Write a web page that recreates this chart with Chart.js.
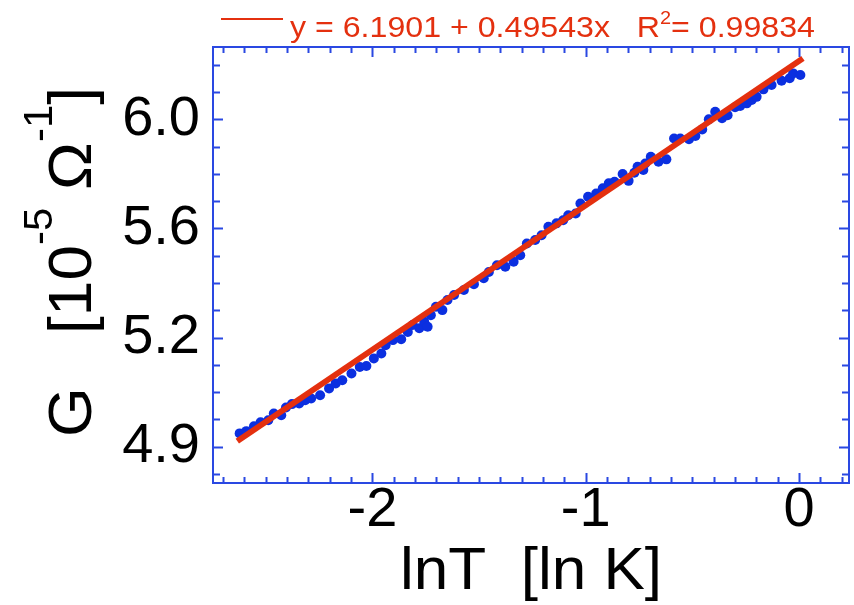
<!DOCTYPE html>
<html>
<head>
<meta charset="utf-8">
<script src="https://cdn.jsdelivr.net/npm/chart.js@4.4.0/dist/chart.umd.min.js"></script>
<style>
  html, body { margin: 0; padding: 0; background: #fff; }
  #wrap { width: 854px; height: 605px; }
</style>
</head>
<body>
<div id="wrap"><canvas id="chart" width="854" height="605"></canvas></div>
<script>
// measured points: ln T [ln K] and G [1e-5 / Ohm]
const lnT = [
  -2.622, -2.591, -2.555, -2.524, -2.488, -2.462, -2.427, -2.405, -2.377, -2.343,
  -2.315, -2.287, -2.245, -2.203, -2.172, -2.141, -2.098, -2.059, -2.028, -1.993,
  -1.958, -1.938, -1.904, -1.865, -1.834, -1.811, -1.780, -1.757, -1.741, -1.726,
  -1.702, -1.672, -1.648, -1.617, -1.571, -1.524, -1.478, -1.454, -1.416, -1.377,
  -1.338, -1.307, -1.276, -1.237, -1.207, -1.175, -1.137, -1.106, -1.082, -1.047,
  -1.025, -0.989, -0.951, -0.920, -0.892, -0.865, -0.827, -0.799, -0.772, -0.757,
  -0.730, -0.721, -0.695, -0.659, -0.622, -0.586, -0.557, -0.516, -0.486, -0.454,
  -0.423, -0.393, -0.361, -0.335, -0.300, -0.276, -0.245, -0.222, -0.199, -0.167,
  -0.129, -0.082, -0.044, -0.028, 0.006
];
const G = [
  4.919, 4.926, 4.941, 4.954, 4.960, 4.981, 4.976, 5.000, 5.011, 5.013,
  5.023, 5.029, 5.039, 5.061, 5.077, 5.087, 5.109, 5.130, 5.133, 5.158,
  5.174, 5.201, 5.218, 5.221, 5.245, 5.268, 5.257, 5.279, 5.262, 5.301,
  5.329, 5.318, 5.352, 5.369, 5.386, 5.406, 5.426, 5.448, 5.471, 5.466,
  5.483, 5.506, 5.547, 5.559, 5.576, 5.606, 5.618, 5.629, 5.647, 5.653,
  5.689, 5.713, 5.725, 5.744, 5.762, 5.768, 5.796, 5.771, 5.801, 5.823,
  5.811, 5.835, 5.860, 5.841, 5.850, 5.928, 5.928, 5.925, 5.937, 5.962,
  6.000, 6.029, 6.004, 6.016, 6.046, 6.051, 6.061, 6.074, 6.086, 6.115,
  6.132, 6.148, 6.158, 6.177, 6.171
];

// fit line end points
const fitX = [-2.633, 0.018];
const fitG = [4.895, 6.236];

const xTickValues = [-2, -1, 0];
const yTickValues = [4.878, 5.227, 5.6, 6.0];
const yTickLabels = ['4.9', '5.2', '5.6', '6.0'];

const fitLabel = ['y = 6.1901 + 0.49543x   R', '2', '= 0.99834'];
const xTitle = 'lnT  [ln K]';
const yTitle = [['G   [10', false], ['-5', true], [' \u03A9', false], ['-1', true], [']', false]];

const RED = '#e4300f';
const BLUE = '#0b2fe0';
const FRAME = '#2a48e2';
const FONT = "'Liberation Sans', Arial, Helvetica, sans-serif";

// draws text pieces (normal / superscript) stretched to a given width
function drawPieces(ctx, pieces, size, supSize, supRise, width) {
  let total = 0;
  pieces.forEach(([t, sup]) => {
    ctx.font = (sup ? supSize : size) + 'px ' + FONT;
    total += ctx.measureText(t).width;
  });
  const sx = width / total;
  ctx.save();
  ctx.scale(sx, 1);
  let x = 0;
  pieces.forEach(([t, sup]) => {
    ctx.font = (sup ? supSize : size) + 'px ' + FONT;
    ctx.fillText(t, x, sup ? -supRise : 0);
    x += ctx.measureText(t).width;
  });
  ctx.restore();
}

const framePlugin = {
  id: 'frame',
  afterDraw(chart) {
    const { ctx, chartArea: a, scales } = chart;
    const xs = scales.x, ys = scales.y;
    ctx.save();
    ctx.strokeStyle = FRAME;
    ctx.lineWidth = 2;
    ctx.strokeRect(a.left, a.top, a.right - a.left, a.bottom - a.top);

    ctx.beginPath();
    // x ticks every 0.1, pointing inward
    for (let i = -27; i <= 2; i++) {
      const px = Math.round(xs.getPixelForValue(i / 10)) + 0.5;
      const len = i % 10 === 0 ? 10 : 6;
      ctx.moveTo(px, a.bottom); ctx.lineTo(px, a.bottom - len);
      ctx.moveTo(px, a.top); ctx.lineTo(px, a.top + len);
    }
    // y ticks: majors plus 3 minors between
    const r = yTickValues[3] / yTickValues[2];
    const q = Math.pow(r, 0.25);
    let v = yTickValues[0] / r;
    let k = 0;
    while (v <= ys.max * 1.0001) {
      if (v >= ys.min) {
        const py = Math.round(ys.getPixelForValue(v)) + 0.5;
        const len = k % 4 === 0 ? 10 : 7;
        ctx.moveTo(a.left, py); ctx.lineTo(a.left + len, py);
        ctx.moveTo(a.right, py); ctx.lineTo(a.right - len, py);
      }
      v *= q; k++;
    }
    ctx.stroke();

    // legend
    ctx.strokeStyle = RED;
    ctx.lineWidth = 2;
    ctx.beginPath();
    ctx.moveTo(221, 19); ctx.lineTo(283, 19);
    ctx.stroke();
    ctx.fillStyle = RED;
    ctx.textBaseline = 'alphabetic';
    ctx.textAlign = 'left';
    ctx.save();
    ctx.translate(290, 37);
    drawPieces(ctx, [[fitLabel[0], false], [fitLabel[1], true], [fitLabel[2], false]], 29, 18, 13, 525);
    ctx.restore();

    // axis titles
    ctx.fillStyle = '#000';
    ctx.save();
    ctx.translate(400, 589);
    drawPieces(ctx, [[xTitle, false]], 60, 40, 0, 262);
    ctx.restore();

    ctx.save();
    ctx.translate(91, 437);
    ctx.rotate(-Math.PI / 2);
    drawPieces(ctx, yTitle, 61, 40, 39, 350);
    ctx.restore();
    ctx.restore();
  }
};

new Chart(document.getElementById('chart').getContext('2d'), {
  type: 'scatter',
  data: {
    datasets: [
      {
        type: 'line',
        label: 'fit',
        data: fitX.map((x, i) => ({ x: x, y: fitG[i] })),
        borderColor: RED,
        borderWidth: 6,
        pointRadius: 0,
        fill: false,
        order: 0
      },
      {
        label: 'G',
        data: lnT.map((x, i) => ({ x: x, y: G[i] })),
        backgroundColor: BLUE,
        borderColor: BLUE,
        borderWidth: 0,
        pointRadius: 5,
        order: 1
      }
    ]
  },
  options: {
    responsive: false,
    animation: false,
    layout: { padding: { top: 47, right: 1, left: 0, bottom: 0 } },
    plugins: { legend: { display: false }, tooltip: { enabled: false } },
    scales: {
      x: {
        type: 'linear',
        min: -2.747,
        max: 0.234,
        afterBuildTicks: s => { s.ticks = xTickValues.map(v => ({ value: v })); },
        afterFit: s => { s.height = 122; },
        grid: { display: false, drawTicks: false },
        border: { display: false },
        ticks: { color: '#000', padding: 0, font: { family: FONT, size: 56, lineHeight: 1 } }
      },
      y: {
        type: 'logarithmic',
        min: 4.767,
        max: 6.281,
        afterBuildTicks: s => { s.ticks = yTickValues.map(v => ({ value: v })); },
        afterFit: s => { s.width = 213; },
        grid: { display: false, drawTicks: false },
        border: { display: false },
        ticks: {
          color: '#000',
          padding: 13,
          font: { family: FONT, size: 56, lineHeight: 1 },
          callback: v => {
            const i = yTickValues.findIndex(t => Math.abs(t - v) < 1e-6);
            return i >= 0 ? yTickLabels[i] : '';
          }
        }
      }
    }
  },
  plugins: [framePlugin]
});
</script>
</body>
</html>
